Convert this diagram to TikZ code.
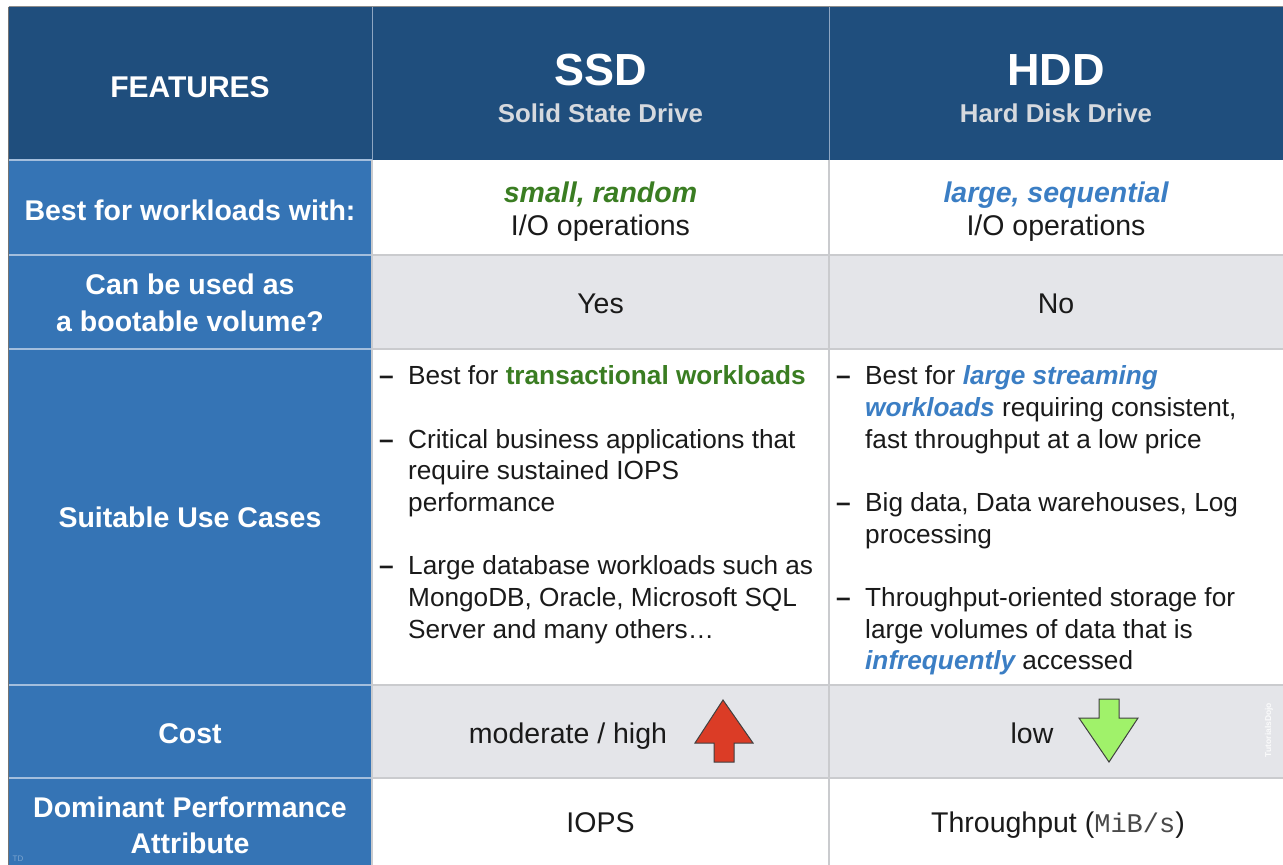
\documentclass[tikz,border=0pt]{standalone}
\usepackage{fontspec}
\setmainfont{Liberation Sans}
\setmonofont{Liberation Mono}
\definecolor{hdr}{HTML}{1F4E7D}
\definecolor{feat}{HTML}{3574B5}
\definecolor{rowgray}{HTML}{E4E5E9}
\definecolor{grn}{HTML}{3A7D22}
\definecolor{blu}{HTML}{3B7EC4}
\definecolor{subhdr}{HTML}{D6D9DE}
\definecolor{arrowred}{HTML}{DB3C26}
\definecolor{arrowgreen}{HTML}{A0F26A}
\definecolor{txt}{HTML}{1A1A1A}
\definecolor{gridgray}{HTML}{CACBCE}
\definecolor{featline}{HTML}{A3BEDD}
\definecolor{hdrline}{HTML}{8EA6C2}
\definecolor{monogray}{HTML}{4A4A4A}
\begin{document}
\begin{tikzpicture}[x=1pt,y=-1pt,
  feattext/.style={text=white, font=\bfseries\fontsize{28.5}{36}\selectfont, anchor=base, inner sep=0pt},
  bigtitle/.style={text=white, font=\bfseries\fontsize{45}{50}\selectfont, anchor=base, inner sep=0pt},
  subtitle/.style={text=subhdr, font=\bfseries\fontsize{25.8}{30}\selectfont, anchor=base, inner sep=0pt},
  cell/.style={text=txt, font=\fontsize{28.5}{35}\selectfont, anchor=base, inner sep=0pt},
  bul/.style={text=txt, font=\fontsize{26.2}{31.7}\selectfont, anchor=base west, inner sep=0pt},
  dashmark/.style={text=txt, font=\bfseries\fontsize{26.2}{31.7}\selectfont, anchor=base west, inner sep=0pt},
  gridline/.style={draw=gridgray, line width=1.2pt},
  featsep/.style={draw=featline, line width=1.6pt},
  arrowshape/.style={draw=black!75, line width=1pt, line join=miter}
]
\useasboundingbox (0,0) rectangle (1283,865);
\fill[white] (0,0) rectangle (1283,865);

% ---- cell fills ----
\fill[hdr] (9,7) rectangle (1283,160);
\fill[feat] (9,160) rectangle (372,865);
\fill[white] (372,160) rectangle (1283,255);
\fill[rowgray] (372,255) rectangle (1283,349);
\fill[white] (372,349) rectangle (1283,685);
\fill[rowgray] (372,685) rectangle (1283,778);
\fill[white] (372,778) rectangle (1283,865);

% ---- grid lines ----
\draw[featsep] (9,160) -- (372,160);
\draw[featsep] (9,255) -- (372,255);
\draw[featsep] (9,349) -- (372,349);
\draw[featsep] (9,685) -- (372,685);
\draw[featsep] (9,778) -- (372,778);
\draw[draw=hdrline, line width=1pt] (372,7) -- (372,160);
\draw[draw=hdrline, line width=1pt] (829,7) -- (829,160);
\draw[gridline] (372,255) -- (1283,255);
\draw[gridline] (372,349) -- (1283,349);
\draw[gridline] (372,685) -- (1283,685);
\draw[gridline] (372,778) -- (1283,778);
\draw[gridline] (829,160) -- (829,865);
\draw[gridline] (372,160) -- (372,865);
\draw[draw=black!45, line width=1pt] (8.5,6.5) -- (1283,6.5);
\draw[draw=black!55, line width=1.2pt] (8.5,6.5) -- (8.5,865);

% ---- header ----
\node[feattext, font=\bfseries\fontsize{30}{36}\selectfont] (hfeat) at (190,97) {FEATURES};
\node[bigtitle] (hssd) at (600.5,85) {SSD};
\node[subtitle] (hssdsub) at (600.5,122) {Solid State Drive};
\node[bigtitle] (hhdd) at (1056,85) {HDD};
\node[subtitle] (hhddsub) at (1056,122) {Hard Disk Drive};

% ---- feature column ----
\node[feattext] (f1) at (190,220) {Best for workloads with:};
\node[feattext] (f2a) at (190,294) {Can be used as};
\node[feattext] (f2b) at (190,331) {a bootable volume?};
\node[feattext] (f3) at (190,527) {Suitable Use Cases};
\node[feattext] (f4) at (190,743) {Cost};
\node[feattext] (f5a) at (190,817) {Dominant Performance};
\node[feattext] (f5b) at (190,853) {Attribute};

% ---- row 1 ----
\node[cell, text=grn, font=\bfseries\itshape\fontsize{28.5}{35}\selectfont] (s1a) at (600.5,202) {small, random};
\node[cell] (s1b) at (600.5,235) {I/O operations};
\node[cell, text=blu, font=\bfseries\itshape\fontsize{28.5}{35}\selectfont] (d1a) at (1056,202) {large, sequential};
\node[cell] (d1b) at (1056,235) {I/O operations};

% ---- row 2 ----
\node[cell] (s2) at (600.5,313) {Yes};
\node[cell] (d2) at (1056,313) {No};

% ---- row 3 SSD ----
\node[dashmark] (sd1) at (379,384) {–};
\node[bul] (sl1) at (408,384) {Best for \textcolor{grn}{\bfseries transactional workloads}};
\node[dashmark] (sd2) at (379,448) {–};
\node[bul] (sl2) at (408,448) {Critical business applications that};
\node[bul] (sl3) at (408,479.7) {require sustained IOPS};
\node[bul] (sl4) at (408,511.4) {performance};
\node[dashmark] (sd3) at (379,574.8) {–};
\node[bul] (sl5) at (408,574.8) {Large database workloads such as};
\node[bul] (sl6) at (408,606.5) {MongoDB, Oracle, Microsoft SQL};
\node[bul] (sl7) at (408,638.2) {Server and many others…};

% ---- row 3 HDD ----
\node[dashmark] (hd1) at (836,384) {–};
\node[bul] (hl1) at (865,384) {Best for \textcolor{blu}{\bfseries\itshape large streaming}};
\node[bul] (hl2) at (865,416) {\textcolor{blu}{\bfseries\itshape workloads} requiring consistent,};
\node[bul] (hl3) at (865,448) {fast throughput at a low price};
\node[dashmark] (hd2) at (836,511.4) {–};
\node[bul] (hl4) at (865,511.4) {Big data, Data warehouses, Log};
\node[bul] (hl5) at (865,543.1) {processing};
\node[dashmark] (hd3) at (836,606.5) {–};
\node[bul] (hl6) at (865,606.5) {Throughput-oriented storage for};
\node[bul] (hl7) at (865,638.2) {large volumes of data that is};
\node[bul] (hl8) at (865,669.9) {\textcolor{blu}{\bfseries\itshape infrequently} accessed};

% ---- row 4 ----
\node[cell] (s4) at (568,743) {moderate / high};
\draw[arrowshape, fill=arrowred] (723,700) -- (753,743) -- (734,743) -- (734,762) -- (714,762) -- (714,743) -- (695,743) -- cycle;
\node[cell] (d4) at (1032,743) {low};
\draw[arrowshape, fill=arrowgreen] (1099,699) -- (1119,699) -- (1119,718) -- (1138,718) -- (1109,762) -- (1079,718) -- (1099,718) -- cycle;

% ---- row 5 ----
\node[cell] (s5) at (600.5,832) {IOPS};
\node[cell] (d5) at (1058,832) {Throughput (\textcolor{monogray}{\ttfamily\fontsize{27}{35}\selectfont MiB/s})};

% ---- watermarks ----
\node[rotate=90, text=white, opacity=0.85, font=\bfseries\fontsize{8.5}{9}\selectfont, inner sep=0pt] (wm) at (1269,730) {TutorialsDojo};
\node[text=white, opacity=0.35, font=\fontsize{8}{9}\selectfont, inner sep=0pt] (td) at (18,859) {TD};
\end{tikzpicture}
\end{document}
